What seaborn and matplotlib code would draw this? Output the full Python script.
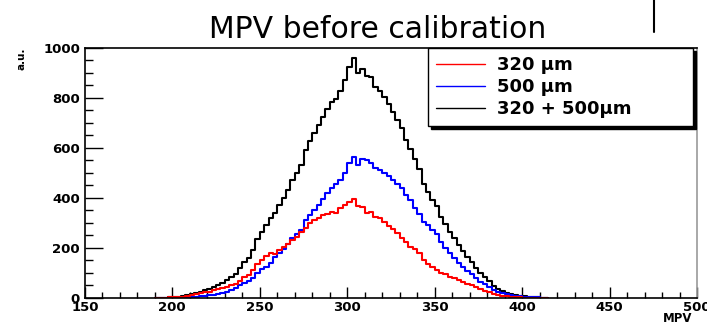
import numpy as np
import pandas as pd
import matplotlib
matplotlib.use("Agg")
import matplotlib.pyplot as plt
from matplotlib.lines import Line2D
from matplotlib.ticker import MultipleLocator
import seaborn as sns

# histogram bins, 2.5 wide, from 190 to 415
bin_edges = np.arange(190, 415.1, 2.5)
bin_centers = bin_edges[:-1] + 1.25

# counts, one per bin
counts_320 = [0, 0, 1, 2, 3, 4, 5, 8, 10, 14,
              18, 22, 25, 31, 35, 41, 45, 52, 56, 68,
              85, 92, 110, 135, 150, 168, 180, 176, 192, 205,
              215, 232, 245, 262, 280, 298, 310, 318, 330, 335,
              342, 340, 358, 372, 385, 395, 368, 362, 338, 345,
              322, 318, 305, 288, 275, 258, 240, 222, 205, 195,
              180, 150, 135, 122, 112, 100, 95, 85, 78, 70,
              62, 56, 50, 42, 35, 28, 22, 16, 12, 9,
              6, 4, 3, 2, 1, 1, 0, 0, 0, 0]
counts_500 = [0, 0, 0, 0, 1, 1, 2, 3, 4, 5,
              6, 8, 10, 13, 16, 20, 25, 32, 40, 50,
              60, 68, 80, 100, 115, 125, 140, 162, 180, 195,
              215, 238, 255, 270, 310, 330, 350, 372, 395, 420,
              440, 455, 470, 500, 540, 565, 530, 555, 550, 540,
              520, 510, 500, 488, 470, 455, 440, 410, 390, 360,
              335, 305, 290, 270, 255, 225, 200, 178, 160, 140,
              125, 108, 95, 78, 65, 55, 45, 33, 25, 19,
              15, 11, 9, 7, 5, 4, 3, 2, 1, 0]

df = pd.DataFrame({
    "mpv": bin_centers,
    "c320": counts_320,
    "c500": counts_500,
})
# the black curve is the sum of both thicknesses
df["csum"] = df["c320"] + df["c500"]

labels = ["320 \u03bcm", "500 \u03bcm", "320 + 500\u03bcm"]
colors = ["#ff0000", "#0000ff", "#000000"]

sns.set_style("ticks")
plt.rcParams["font.family"] = ["DejaVu Sans"]
plt.rcParams["text.color"] = "black"
plt.rcParams["axes.labelcolor"] = "black"
plt.rcParams["xtick.color"] = "black"
plt.rcParams["ytick.color"] = "black"

fig = plt.figure(figsize=(7.07, 3.26), dpi=100)
ax = fig.add_axes([0.120, 0.086, 0.866, 0.767])

for col, color in [("csum", colors[2]), ("c500", colors[1]), ("c320", colors[0])]:
    sns.histplot(
        data=df,
        x="mpv",
        weights=col,
        binwidth=2.5,
        binrange=(190, 415),
        element="step",
        fill=False,
        color=color,
        linewidth=1.5,
        ax=ax
    )

ax.set_xlim(150, 500)
ax.set_ylim(0, 1000)
ax.xaxis.set_major_locator(MultipleLocator(50))
ax.xaxis.set_minor_locator(MultipleLocator(10))
ax.yaxis.set_major_locator(MultipleLocator(200))
ax.yaxis.set_minor_locator(MultipleLocator(50))
ax.tick_params(which="both", direction="in", top=False, right=False, width=1)
ax.tick_params(axis="x", which="major", length=8, pad=2)
ax.tick_params(axis="x", which="minor", length=4)
ax.tick_params(axis="y", which="major", length=13, pad=3.5)
ax.tick_params(axis="y", which="minor", length=6)
for lab in ax.get_xticklabels() + ax.get_yticklabels():
    lab.set_fontweight("bold")
    lab.set_fontsize(9.5)

ax.set_xlabel("MPV", fontsize=8.5, fontweight="bold", ha="right")
ax.xaxis.set_label_coords(0.992, -0.055, transform=ax.transAxes)
ax.xaxis.label.set_va("top")
ax.set_ylabel("a.u.", fontsize=7.5, fontweight="bold", ha="right")
ax.yaxis.set_label_coords(-0.095, 1.0, transform=ax.transAxes)

for side in ["left", "bottom", "top"]:
    ax.spines[side].set_color("black")
    ax.spines[side].set_linewidth(1.2)
ax.spines["right"].set_color("#9a9a9a")
ax.spines["right"].set_linewidth(1.2)

handles = [Line2D([0], [0], color=c, lw=1) for c in colors]
leg = ax.legend(
    handles,
    labels,
    loc="upper left",
    bbox_to_anchor=(428 / 707, 1 - 128 / 326, 265 / 707, 80 / 326),
    bbox_transform=fig.transFigure,
    mode="expand",
    borderaxespad=0,
    frameon=True,
    fancybox=False,
    shadow={"color": "black", "alpha": 1},
    framealpha=1,
    edgecolor="black",
    prop={"weight": "bold", "size": 13},
    handlelength=2.7,
    handletextpad=0.65,
    labelspacing=0.22,
    borderpad=0.45
)
leg.get_frame().set_linewidth(1)

fig.text(378 / 707, 1 - 37.5 / 326, "MPV before calibration",
         ha="center", va="baseline", fontsize=21.5, family="DejaVu Sans")
fig.add_artist(Line2D([654 / 707, 654 / 707], [1.0, 1 - 32 / 326],
                      color="black", lw=1.5, transform=fig.transFigure))

plt.savefig("out.png", dpi=100)
